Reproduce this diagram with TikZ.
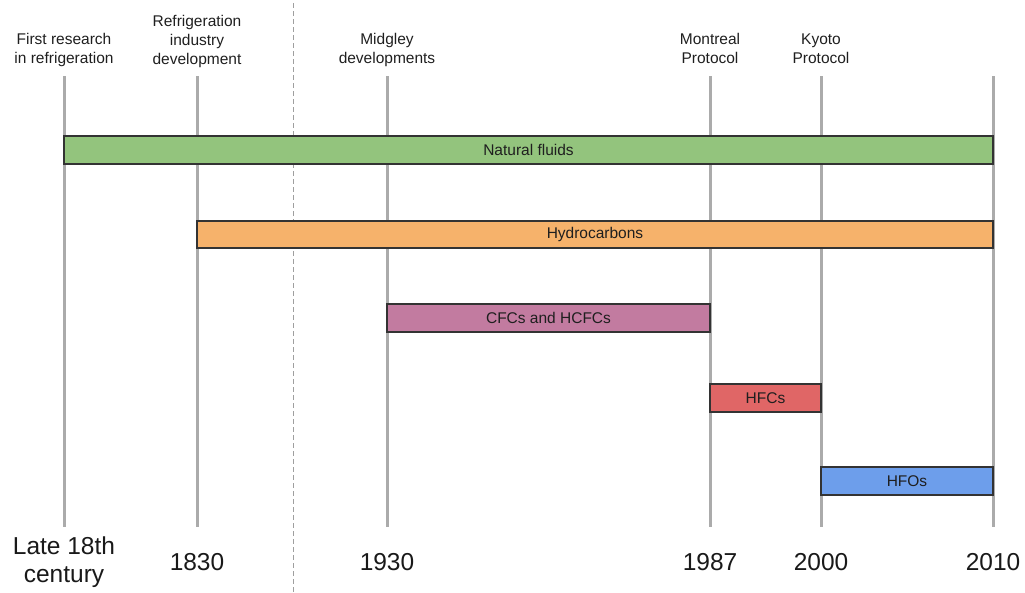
\documentclass[tikz,border=0pt]{standalone}
\usepackage{fontspec}
\setmainfont{Liberation Sans}
\begin{document}
\begin{tikzpicture}[x=1pt,y=-1pt,
  tick/.style={draw=black!33, line width=3pt},
  era/.style={dash pattern=on 5pt off 3pt, line width=0.9pt, draw=gray!75},
  bar/.style={draw=black!80, line width=1.3pt, inner sep=0pt, text=black!88,
    font=\fontsize{15.5}{18}\selectfont, anchor=center},
  event/.style={align=center, inner sep=0pt, anchor=base, text=black!88,
    font=\fontsize{15.5}{18.6}\selectfont},
  year/.style={align=center, inner sep=0pt, anchor=base, text=black!90,
    font=\fontsize{24.5}{28}\selectfont}]
\useasboundingbox (0,0) rectangle (1025,592);

\definecolor{natgreen}{HTML}{93C47D}
\definecolor{hcorange}{HTML}{F6B26B}
\definecolor{cfcpink}{HTML}{C27BA0}
\definecolor{hfcred}{HTML}{E06666}
\definecolor{hfoblue}{HTML}{6D9EEB}

% time markers
\foreach \n/\x in {a/64, b/197, c/387, d/710, e/821, f/993} {
  \coordinate (\n top) at (\x,76);
  \coordinate (\n bot) at (\x,527);
  \draw[tick] (\n top) -- (\n bot);
}

% separator between the two eras
\coordinate (septop) at (293,3);
\coordinate (sepbot) at (293,592);
\draw[era] (septop) -- (sepbot);

% refrigerant families
\node[bar, fill=natgreen, minimum width=929pt, minimum height=28pt] (nat) at (528.5,150) {Natural fluids};
\node[bar, fill=hcorange, minimum width=796pt, minimum height=27pt] (hc) at (595,234.5) {Hydrocarbons};
\node[bar, fill=cfcpink, minimum width=323pt, minimum height=28pt] (cfc) at (548.5,318) {CFCs and HCFCs};
\node[bar, fill=hfcred, minimum width=111pt, minimum height=28pt] (hfc) at (765.5,398) {HFCs};
\node[bar, fill=hfoblue, minimum width=172pt, minimum height=28pt] (hfo) at (907,481) {HFOs};

% events (anchored at the baseline of the last line)
\node[event] (ev1) at (64,63) {First research\\in refrigeration};
\node[event] (ev2) at (197,64) {Refrigeration\\industry\\development};
\node[event] (ev3) at (387,63) {Midgley\\developments};
\node[event] (ev4) at (710,63) {Montreal\\Protocol};
\node[event] (ev5) at (821,63) {Kyoto\\Protocol};

% dates
\node[year] (y1) at (64,582) {Late 18th\\century};
\node[year] (y2) at (197,570) {1830};
\node[year] (y3) at (387,570) {1930};
\node[year] (y4) at (710,570) {1987};
\node[year] (y5) at (821,570) {2000};
\node[year] (y6) at (993,570) {2010};
\end{tikzpicture}
\end{document}
